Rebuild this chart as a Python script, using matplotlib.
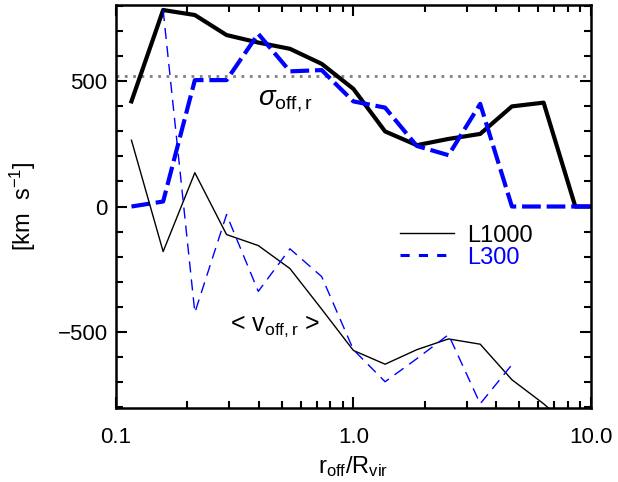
import numpy as np
import matplotlib
matplotlib.use('Agg')
import matplotlib.pyplot as plt
from matplotlib.ticker import FixedLocator, MultipleLocator, NullFormatter

plt.rcParams['font.family'] = ['Liberation Sans', 'DejaVu Sans']
plt.rcParams['mathtext.fontset'] = 'custom'
plt.rcParams['mathtext.rm'] = 'Liberation Sans'
plt.rcParams['mathtext.it'] = 'Liberation Sans:italic'

# radial bins (log spaced)
r_bins = 10 ** (-0.935 + 0.1335 * np.arange(16))

# velocity dispersion, thick lines
sig_L1000 = [420, 785, 765, 685, 655, 630, 570, 470, 300, 245, 270, 290, 400, 415, 0, 0]
sig_L300 = [0, 20, 505, 505, 690, 540, 545, 420, 395, 242, 205, 410, 0, 0, 0, 0]

# mean offset velocity, thin lines
v_L1000 = [265, -180, 135, -112, -156, -248, -410, -575, -630, -572, -529, -550, -692, -788, -900, np.nan]
v_L300 = [np.nan, 785, -424, -32, -339, -169, -280, -572, -700, -608, -512, -788, -632, np.nan, np.nan, np.nan]

sigma_ref = 520

fig = plt.figure(figsize=(6.18, 4.82), dpi=100)
ax = fig.add_axes([0.1877, 0.1535, 0.7686, 0.8361])

ax.axhline(sigma_ref, color='gray', lw=2, ls=(0, (1, 2)))
ax.plot(r_bins, sig_L1000, color='black', lw=3)
ax.plot(r_bins, sig_L300, color='blue', lw=3, ls=(0, (4.5, 1.4)))
ax.plot(r_bins, v_L1000, color='black', lw=1)
ax.plot(r_bins, v_L300, color='blue', lw=1, ls=(0, (8, 5)))

ax.set_xscale('log')
ax.set_xlim(0.1, 10)
ax.set_ylim(-805, 805)
ax.xaxis.set_major_locator(FixedLocator([0.1, 1.0, 10.0]))
ax.set_xticklabels(['0.1', '1.0', '10.0'])
ax.xaxis.set_minor_locator(FixedLocator([a * b for b in (0.1, 1) for a in range(2, 10)]))
ax.xaxis.set_minor_formatter(NullFormatter())
ax.yaxis.set_minor_locator(MultipleLocator(100))
ax.set_yticks([-500, 0, 500])
ax.set_yticklabels(['\u2212500', '0', '500'])

ax.tick_params(which='both', direction='in', top=True, right=True, width=1.5, labelsize=16)
ax.tick_params(which='major', length=8)
ax.tick_params(which='minor', length=5)
ax.tick_params(axis='x', which='major', pad=14)
ax.tick_params(axis='y', which='major', pad=6)
for s in ax.spines.values():
    s.set_linewidth(1.8)

ax.set_xlabel(r'$\mathrm{r_{off}/R_{vir}}$', fontsize=17, labelpad=4)
ax.set_ylabel(r'[km  s$^{-1}$]', fontsize=17, labelpad=14)

ax.text(0.396, 420, r'$\sigma_{\mathrm{off,r}}$', fontsize=20, ha='left', va='center')
ax.text(0.302, -480, r'< v$_{\mathrm{off,r}}$ >', fontsize=18, ha='left', va='center')

ax.plot([], [], color='black', lw=1, label='L1000')
ax.plot([], [], color='blue', lw=2.2, ls=(0, (3, 3)), label='L300')
leg = ax.legend(loc='upper left', bbox_to_anchor=(0.598, 0.455), frameon=False, fontsize=17,
                handlelength=2.3, handletextpad=0.55, labelspacing=0.0, borderpad=0,
                borderaxespad=0)
leg.get_texts()[1].set_color('blue')

fig.savefig('out.png', dpi=100)
